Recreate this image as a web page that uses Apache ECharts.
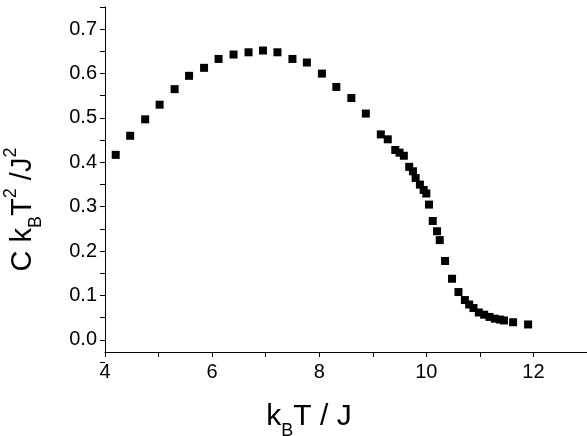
<!DOCTYPE html>
<html>
<head>
<meta charset="utf-8">
<script src="https://cdn.jsdelivr.net/npm/echarts@6/dist/echarts.min.js"></script>
<style>html,body{margin:0;padding:0;background:#fff}#c{width:587px;height:436px}</style>
</head>
<body>
<div id="c"></div>
<script>
var kT = [4.2, 4.47, 4.75, 5.02, 5.3, 5.57, 5.85, 6.12, 6.4, 6.68, 6.95, 7.22, 7.5, 7.77, 8.05, 8.32, 8.6, 8.87,
    9.15, 9.28, 9.42, 9.5, 9.58, 9.68, 9.75, 9.8, 9.88, 9.95, 10.0, 10.05, 10.12, 10.2, 10.25, 10.35, 10.48,
    10.6, 10.72, 10.8, 10.88, 10.98, 11.08, 11.18, 11.28, 11.38, 11.45, 11.62, 11.9];
var heat = [0.417, 0.46, 0.497, 0.53, 0.565, 0.595, 0.613, 0.633, 0.643, 0.648, 0.652, 0.648, 0.633, 0.625, 0.6,
    0.57, 0.545, 0.51, 0.463, 0.452, 0.428, 0.422, 0.415, 0.39, 0.38, 0.365, 0.35, 0.338, 0.33, 0.305, 0.268,
    0.245, 0.225, 0.178, 0.138, 0.108, 0.09, 0.08, 0.072, 0.062, 0.057, 0.052, 0.048, 0.046, 0.044, 0.04, 0.035];

var points = kT.map(function (x, i) { return [x, heat[i]]; });
var myChart = echarts.init(document.getElementById('c'));
var font = 'Liberation Sans, Arial';
var axisText = { color: '#000', fontSize: 20, fontFamily: font };

// grid 0 carries the data and the axis lines; grid 1 only carries the y ticks/labels
// (same scale, 444 px per unit) so ticks can sit on multiples of 0.05
option = {
    animation: false,
    grid: [
        { left: 105, right: 0, top: 7, bottom: 84, outerBoundsMode: 'none' },
        { left: 105, right: 0, top: 7, bottom: 74, outerBoundsMode: 'none' }
    ],
    xAxis: [{
        type: 'value', min: 4, max: 13, interval: 1, gridIndex: 0,
        axisLine: { onZero: false, lineStyle: { color: '#000' } },
        axisTick: { lineStyle: { color: '#000' }, length: 5 },
        splitLine: { show: false },
        axisLabel: Object.assign({
            margin: 10,
            formatter: function (v) { return v % 2 === 0 ? String(v) : ''; }
        }, axisText),
        name: '{n|k}{s|B}{n|T / J}',
        nameLocation: 'middle', nameGap: 50,
        nameTextStyle: {
            padding: [0, 74, 0, 0],
            rich: {
                n: { fontSize: 30, color: '#000', fontFamily: font },
                s: { fontSize: 18, color: '#000', verticalAlign: 'bottom', padding: [0, 0, -8, 0], fontFamily: font }
            }
        }
    }, {
        type: 'value', min: 4, max: 13, gridIndex: 1, show: false
    }],
    yAxis: [{
        type: 'value', min: -0.027, max: 0.75, gridIndex: 0,
        axisLine: { show: true, onZero: false, lineStyle: { color: '#000' } },
        axisTick: { show: false },
        axisLabel: { show: false },
        splitLine: { show: false },
        name: '{n|C k}{s|B}{n|T}{p|2}{n| /J}{p|2}',
        nameLocation: 'middle', nameGap: 68, nameRotate: 90,
        nameTextStyle: {
            padding: [0, 60, 0, 0],
            rich: {
                n: { fontSize: 29, color: '#000', fontFamily: font },
                s: { fontSize: 18, color: '#000', verticalAlign: 'bottom', padding: [0, 0, -8, 0], fontFamily: font },
                p: { fontSize: 18, color: '#000', verticalAlign: 'top', padding: [-6, 0, 0, 0], fontFamily: font }
            }
        }
    }, {
        type: 'value', min: -0.05, max: 0.75, interval: 0.05, gridIndex: 1,
        axisLine: { show: false },
        axisTick: { show: true, lineStyle: { color: '#000' }, length: 5 },
        splitLine: { show: false },
        axisLabel: Object.assign({
            formatter: function (v) {
                var k = Math.round(v * 100);
                if (k < 0) return '';
                return k % 10 === 0 ? (k / 100).toFixed(1) : '';
            }
        }, axisText)
    }],
    series: [{
        type: 'scatter',
        xAxisIndex: 0, yAxisIndex: 0,
        symbol: 'rect',
        symbolSize: 8,
        itemStyle: { color: '#000', opacity: 1 },
        data: points
    }]
};
myChart.setOption(option);
</script>
</body>
</html>
